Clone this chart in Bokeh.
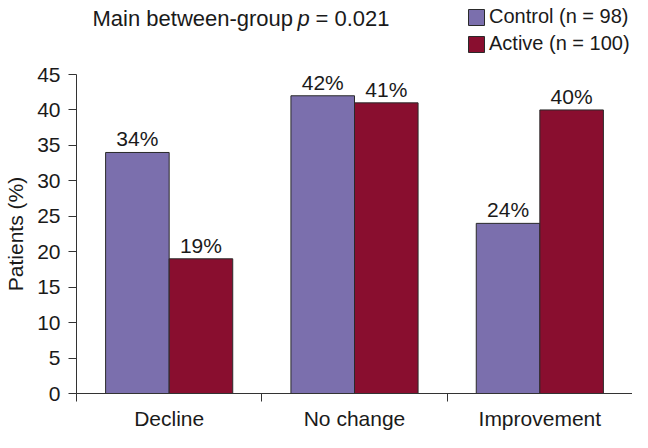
from bokeh.plotting import figure
from bokeh.layouts import column
from bokeh.models import Range1d, FixedTicker, Legend, LegendItem, Label, ColumnDataSource
from bokeh.core.properties import value
from bokeh.embed import file_html
from bokeh.resources import INLINE

# ---- data ----
categories = ["Decline", "No change", "Improvement"]
control = [34, 42, 24]
active = [19, 41, 40]
control_name = "Control (n = 98)"
active_name = "Active (n = 100)"
y_ticks = [0, 5, 10, 15, 20, 25, 30, 35, 40, 45]
title_parts = ["Main between-group", "p", "= 0.021"]

FONT = "Liberation Sans"
TXT = "#1a1a1a"
AX = "#333333"
EDGE = "#2a2a2a"
C_CTRL = "#7B6FAD"
C_ACT = "#890E2F"

n = len(categories)
centers = [i + 0.5 for i in range(n)]
bounds = [i for i in range(n + 1)]
BAR_W = 0.343
ctrl_x = [c - BAR_W / 2 for c in centers]
act_x = [c + BAR_W / 2 for c in centers]

src_c = ColumnDataSource(dict(x=ctrl_x, top=control, lab=[f"{v}%" for v in control]))
src_a = ColumnDataSource(dict(x=act_x, top=active, lab=[f"{v}%" for v in active]))

LEFT = 76  # frame left border (shared by both figures in the column)

# ---------- header strip: title + legend ----------
TOP_H = 64
head = figure(width=632, height=TOP_H, output_backend="svg", toolbar_location=None,
              x_range=Range1d(0, 1), y_range=Range1d(0, 1),
              x_axis_location=None, y_axis_location=None,
              min_border_left=0, min_border_right=0, min_border_top=0, min_border_bottom=0)
head.outline_line_color = None
head.xgrid.visible = False
head.ygrid.visible = False

# hidden copies of the two series, used only for the legend swatches
dc = head.vbar(x="x", top="top", width=BAR_W, source=src_c, fill_color=C_CTRL,
               line_color=EDGE, line_width=1, visible=False)
da = head.vbar(x="x", top="top", width=BAR_W, source=src_a, fill_color=C_ACT,
               line_color=EDGE, line_width=1, visible=False)
legend = Legend(items=[LegendItem(label=control_name, renderers=[dc]),
                       LegendItem(label=active_name, renderers=[da])],
                location=(390, 9), orientation="vertical",
                glyph_width=20, glyph_height=20, label_standoff=3, spacing=4,
                padding=0, margin=0, border_line_alpha=0, background_fill_alpha=0,
                inactive_fill_alpha=0,
                label_text_font=FONT, label_text_font_size="20px",
                label_text_color=TXT, label_height=20)
head.add_layout(legend)

common = dict(x_units="screen", y_units="screen", y=TOP_H - 18, text_font=FONT,
              text_font_size="22px", text_baseline="middle", text_align="left",
              text_color=TXT)
head.add_layout(Label(x=16, text=title_parts[0], **common))
head.add_layout(Label(x=221, text=title_parts[1], text_font_style="italic", **common))
head.add_layout(Label(x=239, text=title_parts[2], **common))

# ---------- main bar chart ----------
p = figure(frame_width=556, frame_height=319, output_backend="svg", toolbar_location=None,
           x_range=Range1d(0, n), y_range=Range1d(y_ticks[0], y_ticks[-1]),
           min_border_left=LEFT, min_border_right=0, min_border_top=10, min_border_bottom=39)
p.outline_line_color = None
p.xgrid.visible = False
p.ygrid.visible = False

p.vbar(x="x", top="top", width=BAR_W, source=src_c, fill_color=C_CTRL,
       line_color=EDGE, line_width=1)
p.vbar(x="x", top="top", width=BAR_W, source=src_a, fill_color=C_ACT,
       line_color=EDGE, line_width=1)

for src in (src_c, src_a):
    p.text(x="x", y="top", text="lab", source=src, text_align="center",
           text_baseline="bottom", y_offset=-2, text_font=value(FONT),
           text_font_size=value("21px"), text_color=TXT)

# x axis
xa = p.xaxis[0]
xa.ticker = FixedTicker(ticks=centers, minor_ticks=bounds)
xa.major_label_overrides = {c: name for c, name in zip(centers, categories)}
xa.major_tick_out = 0
xa.major_tick_in = 0
xa.minor_tick_out = 8
xa.minor_tick_in = 0
xa.minor_tick_line_color = AX
xa.axis_line_color = AX
xa.major_label_standoff = 5
xa.major_label_text_font = FONT
xa.major_label_text_font_size = "21px"
xa.major_label_text_color = TXT

# y axis
ya = p.yaxis[0]
ya.ticker = FixedTicker(ticks=y_ticks)
ya.major_tick_out = 8
ya.major_tick_in = 0
ya.minor_tick_out = 0
ya.minor_tick_in = 0
ya.major_tick_line_color = AX
ya.axis_line_color = AX
ya.major_label_standoff = 8
ya.major_label_text_font = FONT
ya.major_label_text_font_size = "21px"
ya.major_label_text_color = TXT
ya.axis_label = "Patients (%)"
ya.axis_label_standoff = 7
ya.axis_label_text_font = FONT
ya.axis_label_text_font_size = "21px"
ya.axis_label_text_font_style = "normal"
ya.axis_label_text_color = TXT

layout = column(head, p, spacing=0)
open("out.html", "w").write(file_html(layout, INLINE))
